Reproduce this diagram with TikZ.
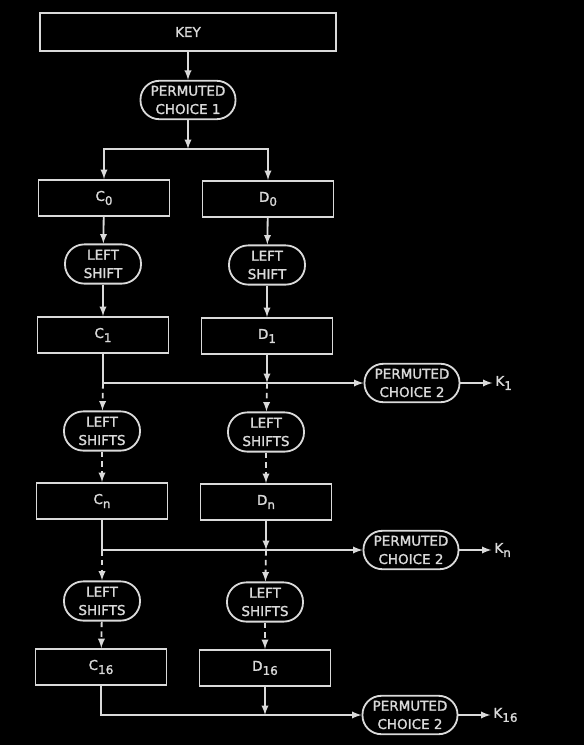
\documentclass[tikz,border=0pt]{standalone}
\usepackage{fontspec}
\setmainfont{DejaVu Sans}[FakeBold=1.5]
\usepackage{xcolor}
\usetikzlibrary{positioning}
\definecolor{ink}{HTML}{DADADA}
\newcommand{\lowsub}[1]{\raisebox{-0.55ex}{\fontsize{8.5}{8.5}\selectfont #1}}

\begin{document}
\begin{tikzpicture}[x=0.025cm, y=-0.025cm, line width=1.3pt, color=ink,
		every node/.style={font=\fontsize{9.6}{13}\selectfont, align=center, inner sep=0pt},
		reg/.style={draw, minimum width=3.275cm, minimum height=0.9cm},
		pill/.style={draw, rounded corners=0.47cm, minimum width=2.375cm, minimum height=0.96cm},
		shiftbox/.style={draw, rounded corners=0.48cm, minimum width=1.9cm, minimum height=0.98cm},
		broken/.style={dash pattern=on 4pt off 3pt},
		kout/.style={inner sep=1.5pt, right=0.8cm of #1}]
			% background
			\fill[black] (0,0) rectangle (584,745);
			
			% key and PC1
			\node[reg, minimum width=7.4cm, minimum height=0.95cm] (key) at (188,32) {KEY};
			\node[pill] (pc1) at (188,100) {PERMUTED\\CHOICE 1};
			\coordinate (split) at (188,149);
			
			% C and D registers
			\node[reg] (c0) at (104,198) {C\lowsub{0}};
			\node[reg] (d0) at (268,199) {D\lowsub{0}};
			\node[shiftbox] (lsc1) at (103,264) {LEFT\\SHIFT};
			\node[shiftbox] (lsd1) at (267,265) {LEFT\\SHIFT};
			\node[reg] (c1) at (103,335) {C\lowsub{1}};
			\node[reg] (d1) at (267,336) {D\lowsub{1}};
			\node[shiftbox] (lscn) at (102,431) {LEFT\\SHIFTS};
			\node[shiftbox] (lsdn) at (266,432) {LEFT\\SHIFTS};
			\node[reg] (cn) at (102,501) {C\lowsub{n}};
			\node[reg] (dn) at (266,502) {D\lowsub{n}};
			\node[shiftbox] (lsc16) at (102,601) {LEFT\\SHIFTS};
			\node[shiftbox] (lsd16) at (265,602) {LEFT\\SHIFTS};
			\node[reg] (c16) at (101,667) {C\lowsub{16}};
			\node[reg] (d16) at (265,668) {D\lowsub{16}};
			
			% PC2 and keys
			\node[pill] (pca) at (412,383) {PERMUTED\\CHOICE 2};
			\node[pill] (pcb) at (411,550) {PERMUTED\\CHOICE 2};
			\node[pill] (pcc) at (410,715) {PERMUTED\\CHOICE 2};
			\node[kout=pca] (k1) {K\lowsub{1}};
			\node[kout=pcb] (kn) {K\lowsub{n}};
			\node[kout=pcc] (k16) {K\lowsub{16}};
			
			% top
			\draw[-latex] (key) -- (pc1);
			\draw[-latex] (pc1) -- (split);
			\draw[-latex] (split) -| (c0);
			\draw[-latex] (split) -| (d0);
			
			% first shift
			\draw[-latex] (c0) -- (lsc1);
			\draw[-latex] (d0) -- (lsd1);
			\draw[-latex] (lsc1) -- (c1);
			\draw[-latex] (lsd1) -- (d1);
			
			% K1
			\draw[-latex] (c1.south) |- (pca.west);
			\draw[-latex] (d1.south) -- (d1 |- pca.west);
			\draw[-latex] (pca) -- (k1);
			\draw[broken, -latex] (c1 |- pca.west) -- (lscn);
			\draw[broken, -latex] (d1 |- pca.west) -- (lsdn);
			\draw[broken, -latex] (lscn) -- (cn);
			\draw[broken, -latex] (lsdn) -- (dn);
			
			% Kn
			\draw[-latex] (cn.south) |- (pcb.west);
			\draw[-latex] (dn.south) -- (dn |- pcb.west);
			\draw[-latex] (pcb) -- (kn);
			\draw[broken, -latex] (cn |- pcb.west) -- (lsc16);
			\draw[broken, -latex] (dn |- pcb.west) -- (lsd16);
			\draw[broken, -latex] (lsc16) -- (c16);
			\draw[broken, -latex] (lsd16) -- (d16);
			
			% K16
			\draw[-latex] (c16.south) |- (pcc.west);
			\draw[-latex] (d16.south) -- (d16 |- pcc.west);
			\draw[-latex] (pcc) -- (k16);
\end{tikzpicture}
\end{document}
